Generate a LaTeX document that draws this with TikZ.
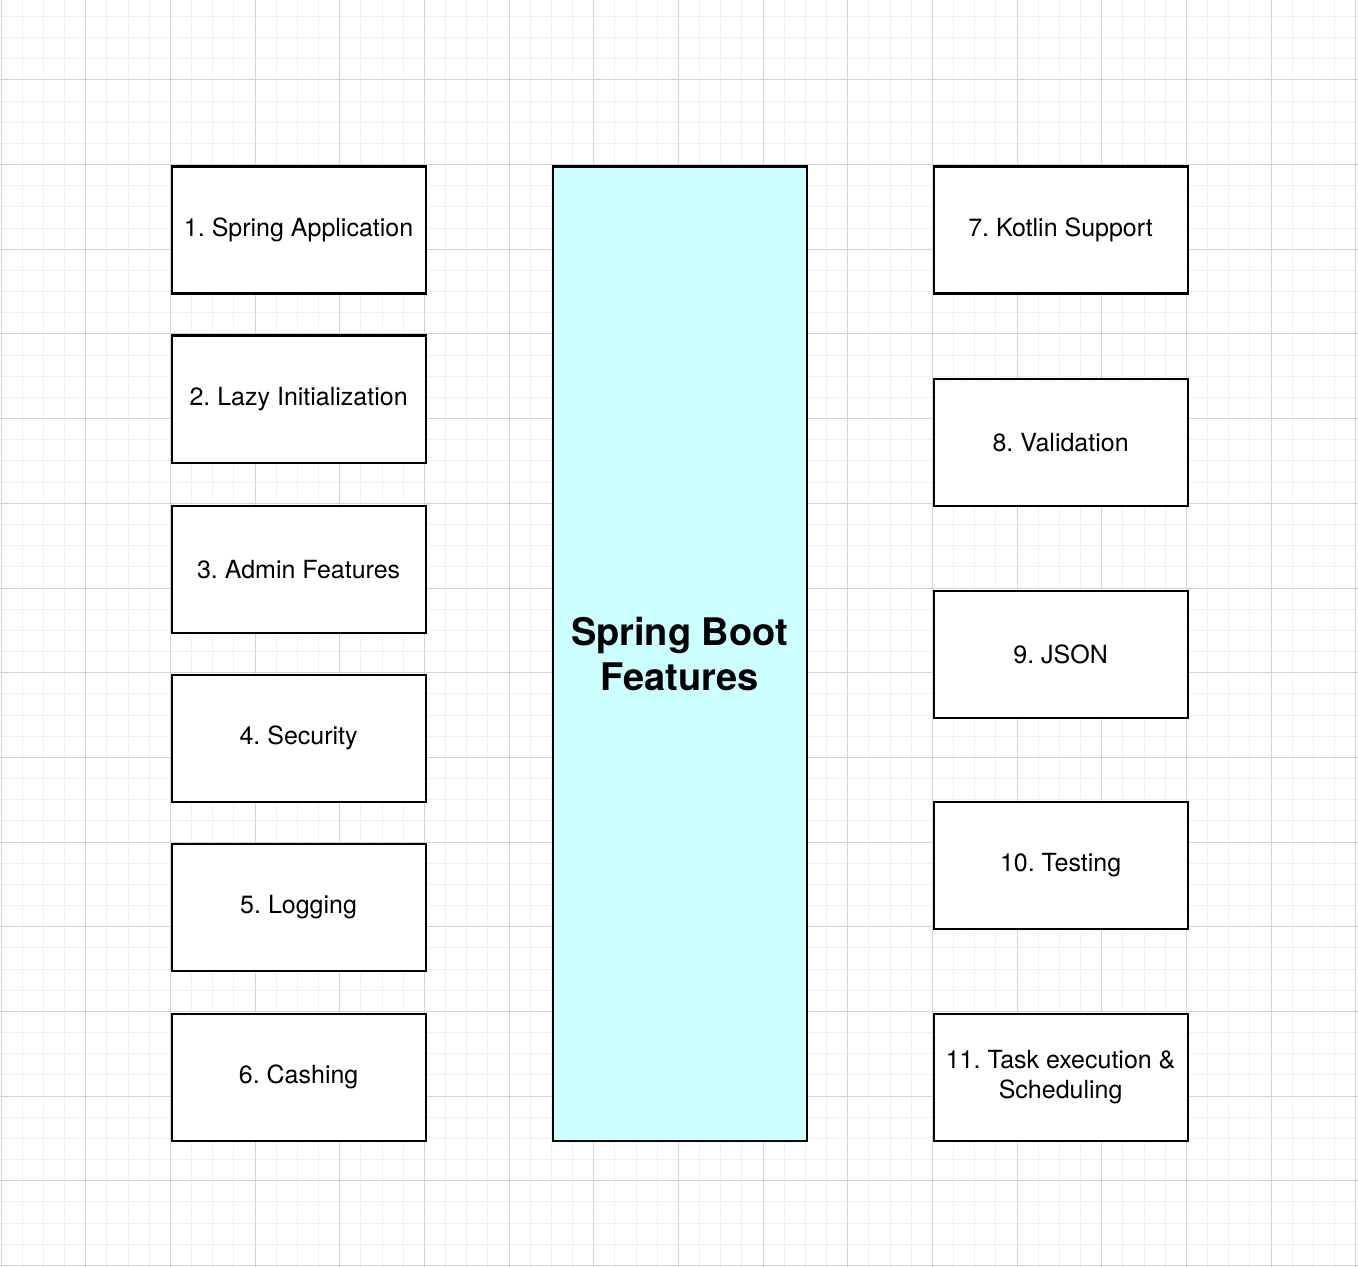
\documentclass[tikz,border=0pt]{standalone}
\usepackage{fontspec}
\setmainfont{TeX Gyre Heros}
\frenchspacing
\definecolor{minorgrid}{HTML}{F0F0F0}
\definecolor{majorgrid}{HTML}{D4D4D4}
\definecolor{cyanfill}{HTML}{CCFFFF}
\begin{document}
\begin{tikzpicture}[x=0.5pt,y=-0.5pt,
  feat/.style={draw=black,line width=1.1pt,fill=white,minimum width=127pt,minimum height=63.5pt,inner sep=0pt,align=center,font=\fontsize{12.5}{15}\selectfont,anchor=north west},
  core/.style={draw=black,line width=1.1pt,fill=cyanfill,minimum width=127pt,minimum height=487pt,inner sep=0pt,align=center,font=\bfseries\fontsize{19}{22.5}\selectfont,anchor=north west},
  mingrid/.style={draw=minorgrid,line width=0.5pt},
  majgrid/.style={draw=majorgrid,line width=0.5pt}]
\useasboundingbox (0,0) rectangle (1358,1267);
\fill[white] (0,0) rectangle (1358,1267);
% minor grid
\foreach \i in {0,...,64}{
  \pgfmathsetmacro{\gx}{1+21.1667*\i}
  \draw[mingrid] (\gx,0) -- (\gx,1267);
}
\foreach \i in {0,...,60}{
  \pgfmathsetmacro{\gy}{-4.67+21.1667*\i}
  \draw[mingrid] (0,\gy) -- (1358,\gy);
}
% major grid
\foreach \i in {0,...,16}{
  \pgfmathsetmacro{\gx}{1+84.667*\i}
  \draw[majgrid] (\gx,0) -- (\gx,1267);
}
\foreach \i in {0,...,15}{
  \pgfmathsetmacro{\gy}{-4.67+84.667*\i}
  \draw[majgrid] (0,\gy) -- (1358,\gy);
}
% left column
\node[feat] (n1) at (170.5,165.5) {1. Spring Application};
\node[feat] (n2) at (170.5,334.5) {2. Lazy Initialization};
\node[feat] (n3) at (170.5,504.5) {3. Admin Features};
\node[feat] (n4) at (170.5,673.5) {4. Security};
\node[feat] (n5) at (170.5,842.5) {5. Logging};
\node[feat] (n6) at (170.5,1012.5) {6. Cashing};
% center
\node[core] (sb) at (551.5,165.5) {Spring Boot\\Features};
% right column
\node[feat] (n7) at (932.5,165.5) {7. Kotlin Support};
\node[feat] (n8) at (932.5,377.5) {8. Validation};
\node[feat] (n9) at (932.5,589.5) {9. JSON};
\node[feat] (n10) at (932.5,800.5) {10. Testing};
\node[feat] (n11) at (932.5,1012.5) {11. Task execution \&\\Scheduling};
\end{tikzpicture}
\end{document}
